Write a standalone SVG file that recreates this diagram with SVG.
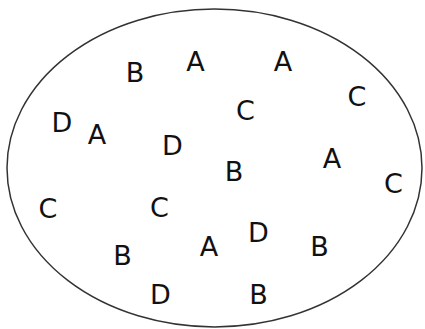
<svg xmlns="http://www.w3.org/2000/svg" width="425" height="329" viewBox="0 0 425 329">
<style>
.l{font-family:"DejaVu Sans",sans-serif;font-size:27px;fill:#111;text-anchor:middle}
</style>
<rect width="425" height="329" fill="#fff"/>
<g id="set">
<ellipse cx="214.5" cy="168" rx="207.5" ry="159" fill="none" stroke="#333" stroke-width="1.5"/>
</g>
<g id="letters">
<text class="l" x="135" y="82">B</text>
<text class="l" x="195.5" y="71">A</text>
<text class="l" x="283" y="71">A</text>
<text class="l" x="357" y="106">C</text>
<text class="l" x="245.5" y="120">C</text>
<text class="l" x="62" y="132">D</text>
<text class="l" x="97" y="144">A</text>
<text class="l" x="172.5" y="155">D</text>
<text class="l" x="332" y="168">A</text>
<text class="l" x="234" y="181">B</text>
<text class="l" x="393.5" y="193">C</text>
<text class="l" x="48" y="218">C</text>
<text class="l" x="159.5" y="217">C</text>
<text class="l" x="258.5" y="242">D</text>
<text class="l" x="209" y="256">A</text>
<text class="l" x="319.5" y="256">B</text>
<text class="l" x="122.5" y="265">B</text>
<text class="l" x="160.5" y="304">D</text>
<text class="l" x="258.5" y="304">B</text>
</g>
</svg>
